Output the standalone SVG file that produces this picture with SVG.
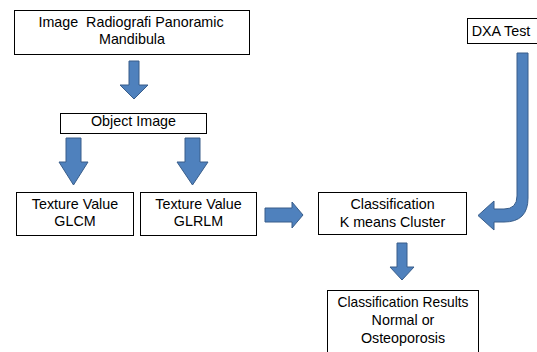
<svg xmlns="http://www.w3.org/2000/svg" width="537" height="352" viewBox="0 0 537 352">
<style>
.box{fill:#fff;stroke:#000;stroke-width:1}
.t{font-family:"Liberation Sans",Arial,sans-serif;font-size:14.3px;fill:#000;text-anchor:middle;white-space:pre}
.arr{fill:#4F81BD;stroke:#385D8A;stroke-width:1;stroke-linejoin:miter}
</style>
<rect width="537" height="352" fill="#fff"/>
<g id="connectors">
<polygon class="arr" points="129,61 139,61 139,85 148,85 134,99 120,85 129,85"/>
<polygon class="arr" points="66,138 81,138 81,162 88,162 73.5,185 59,162 66,162"/>
<polygon class="arr" points="185,138 200,138 200,162 208,162 192.5,185 177,162 185,162"/>
<polygon class="arr" points="265,208 292,208 292,202 303,215 292,228 292,222 265,222"/>
<polygon class="arr" points="397,243 407,243 407,267 414,267 402,280 390,267 397,267"/>
<path class="arr" d="M517,53 L528,53 L528,198 Q528,222 504,222 L494,222 L494,230 L478,215.5 L494,201 L494,209 L504,209 Q517,209 517,196 Z"/>
</g>
<g id="image-radiografi">
<rect class="box" x="14.5" y="10.5" width="235" height="44"/>
<text class="t" x="131" y="27" xml:space="preserve">Image  Radiografi Panoramic</text>
<text class="t" x="132" y="44">Mandibula</text>
</g>
<g id="object-image">
<rect class="box" x="60.5" y="113.5" width="146" height="20"/>
<text class="t" x="133.5" y="125.5">Object Image</text>
</g>
<g id="glcm">
<rect class="box" x="16.5" y="192.5" width="117" height="43"/>
<text class="t" x="75" y="209">Texture Value</text>
<text class="t" x="75" y="225.5">GLCM</text>
</g>
<g id="glrlm">
<rect class="box" x="140.5" y="192.5" width="116" height="43"/>
<text class="t" x="198.5" y="209">Texture Value</text>
<text class="t" x="198.5" y="225.5">GLRLM</text>
</g>
<g id="classification">
<rect class="box" x="318.5" y="192.5" width="148" height="42"/>
<text class="t" x="392.5" y="208.5">Classification</text>
<text class="t" x="392.5" y="227">K means Cluster</text>
</g>
<g id="dxa">
<rect class="box" x="467.5" y="18.5" width="75" height="25"/>
<text class="t" x="501" y="36">DXA Test</text>
</g>
<g id="results">
<rect class="box" x="327.5" y="290.5" width="151" height="70"/>
<text class="t" x="403" y="307" textLength="131" lengthAdjust="spacingAndGlyphs">Classification Results</text>
<text class="t" x="403" y="325">Normal or</text>
<text class="t" x="403" y="343">Osteoporosis</text>
</g>
</svg>
